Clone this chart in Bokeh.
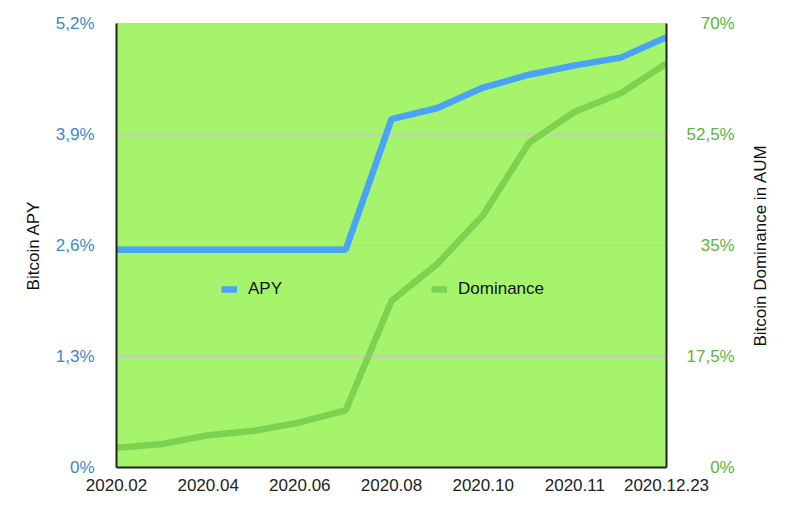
from bokeh.plotting import figure
from bokeh.models import (Range1d, LinearAxis, FixedTicker, CustomJSTickFormatter,
                          Legend, LegendItem, Label)
from bokeh.layouts import row
from bokeh.embed import file_html
from bokeh.resources import INLINE
import math

# ---- data ----
dates = ["2020.02", "2020.03", "2020.04", "2020.05", "2020.06", "2020.07",
         "2020.08", "2020.09", "2020.10", "2020.10.15", "2020.11", "2020.12",
         "2020.12.23"]
apy = [2.55, 2.55, 2.55, 2.55, 2.55, 2.55, 4.08, 4.21, 4.45, 4.60, 4.71, 4.80, 5.04]
dominance = [3.1, 3.7, 5.1, 5.8, 7.1, 9.0, 26.3, 32.1, 39.8, 51.2, 56.1, 59.0, 63.7]
apy_ticks = [0, 1.3, 2.6, 3.9, 5.2]
dom_ticks = [0, 17.5, 35, 52.5, 70]
label_every = 2
right_title = "Bitcoin Dominance in AUM"

x = list(range(len(dates)))

FONT = "Liberation Sans"
BLUE = "#4aa3f6"
GREEN = "#7dd24f"
BLUE_TXT = "#3d87c9"
GREEN_TXT = "#5cb43a"
FW, FH = 550, 444
BL, BR, BT, BB = 116, 74, 23, 46
TOTAL_W, TOTAL_H = 800, 513

p = figure(frame_width=FW, frame_height=FH, output_backend="svg", toolbar_location=None,
           x_range=Range1d(0, len(dates) - 1), y_range=Range1d(apy_ticks[0], apy_ticks[-1]),
           min_border_left=BL, min_border_right=BR, min_border_top=BT, min_border_bottom=BB,
           background_fill_color="#a6f46c", border_fill_color="white")
p.extra_y_ranges = {"dom": Range1d(dom_ticks[0], dom_ticks[-1])}

fmt = CustomJSTickFormatter(code="""
    return (tick == 0 ? "0" : String(+tick.toFixed(1)).replace(".", ",")) + "%";
""")
# right-aligned look: pad shorter labels with figure / punctuation spaces
fmt_right = CustomJSTickFormatter(code="""
    var s = (tick == 0 ? "0" : String(+tick.toFixed(1)).replace(".", ","));
    var d = s.replace(",", "").length;
    var pad = "\\u2007".repeat(Math.max(0, 3 - d)) + (s.indexOf(",") < 0 ? "\\u2008" : "");
    return pad + s + "%";
""")

# x axis
xa = p.xaxis[0]
xa.ticker = FixedTicker(ticks=x[::label_every])
xa.major_label_overrides = {i: dates[i] for i in x}
xa.major_tick_line_color = None
xa.major_tick_out = 0
xa.minor_tick_line_color = None
xa.axis_line_color = "#222222"
xa.axis_line_width = 2
xa.major_label_text_font = FONT
xa.major_label_text_font_size = "17px"
xa.major_label_text_color = "#222222"
xa.major_label_standoff = 11

# left axis
ya = p.yaxis[0]
ya.ticker = FixedTicker(ticks=apy_ticks)
ya.formatter = fmt
ya.axis_label = "Bitcoin APY"
ya.major_tick_line_color = None
ya.major_tick_out = 0
ya.minor_tick_line_color = None
ya.axis_line_color = "#222222"
ya.axis_line_width = 2
ya.major_label_text_font = FONT
ya.major_label_text_font_size = "17px"
ya.major_label_text_color = BLUE_TXT
ya.major_label_standoff = 22
ya.axis_label_text_font = FONT
ya.axis_label_text_font_size = "17px"
ya.axis_label_text_font_style = "normal"
ya.axis_label_text_color = "#111111"
ya.axis_label_standoff = 10

# right axis
ra = LinearAxis(y_range_name="dom", ticker=FixedTicker(ticks=dom_ticks), formatter=fmt_right)
ra.major_tick_line_color = None
ra.major_tick_out = 0
ra.minor_tick_line_color = None
ra.axis_line_color = "#222222"
ra.axis_line_width = 2
ra.major_label_text_font = FONT
ra.major_label_text_font_size = "17px"
ra.major_label_text_color = GREEN_TXT
ra.major_label_standoff = 20
p.add_layout(ra, "right")

p.xgrid.grid_line_color = None
p.ygrid.ticker = FixedTicker(ticks=apy_ticks)
p.ygrid.grid_line_color = "#c4c4c4"
p.ygrid.grid_line_width = 1
p.outline_line_color = "#c8c8c8"
p.outline_line_width = 1

r_dom = p.line(x, dominance, y_range_name="dom", line_color=GREEN, line_width=6.5)
r_apy = p.line(x, apy, line_color=BLUE, line_width=6.5)

legend = Legend(items=[LegendItem(label="APY", renderers=[r_apy]),
                       LegendItem(label="Dominance", renderers=[r_dom])],
                orientation="horizontal", location=(105, 168),
                background_fill_alpha=0, border_line_color=None,
                padding=0, margin=0, spacing=149,
                glyph_width=16, glyph_height=16, label_standoff=11,
                label_text_font=FONT, label_text_font_size="17px",
                label_text_color="#111111", label_height=16)
p.add_layout(legend, "center")

# narrow side panel carrying the right-hand axis title (reads bottom-to-top)
side_w = TOTAL_W - (BL + FW + BR)
t = figure(width=side_w, height=TOTAL_H, output_backend="svg", toolbar_location=None,
           x_range=Range1d(0, 1), y_range=Range1d(0, 1),
           min_border=0, outline_line_color=None, border_fill_color="white",
           background_fill_color="white")
t.axis.visible = False
t.grid.visible = False
t.add_layout(Label(x=20, y=FH / 2, x_units="screen", y_units="screen",
                   text=right_title, angle=math.pi / 2,
                   text_align="center", text_baseline="middle",
                   text_font=FONT, text_font_size="17px", text_color="#111111"))

layout = row(p, t, spacing=0)
open("out.html", "w").write(file_html(layout, INLINE))
